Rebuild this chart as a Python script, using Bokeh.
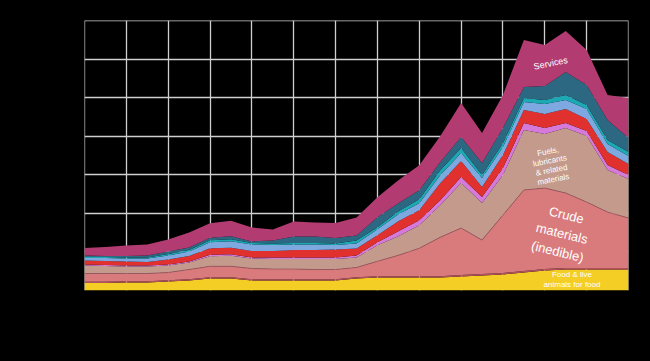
from bokeh.plotting import figure
from bokeh.models import ColumnDataSource, Range1d, FixedTicker, Span
from bokeh.embed import file_html
from bokeh.resources import INLINE
from bokeh.core.properties import value

# ---- data (grid unit = 10) ----
x = [2008.0, 2008.5, 2009.0, 2009.5, 2010.0, 2010.5, 2011.0, 2011.5, 2012.0,
     2012.5, 2013.0, 2013.5, 2014.0, 2014.5, 2015.0, 2015.5, 2016.0, 2016.5,
     2017.0, 2017.5, 2018.0, 2018.5, 2019.0, 2019.5, 2020.0, 2020.5, 2021.0]

food = [1.94, 1.94, 2.07, 2.07, 2.33, 2.59, 3.11, 3.11, 2.59, 2.59, 2.59, 2.59, 2.59, 3.11,
        3.37, 3.37, 3.37, 3.37, 3.63, 3.89, 4.15, 4.67, 5.19, 5.45, 5.45, 5.45, 5.45]
beverages = [0.3, 0.3, 0.3, 0.3, 0.3, 0.3, 0.35, 0.35, 0.3, 0.3, 0.3, 0.3, 0.3, 0.3,
             0.35, 0.35, 0.35, 0.35, 0.4, 0.4, 0.4, 0.4, 0.4, 0.4, 0.4, 0.4, 0.4]
crude = [2.16, 2.16, 2.03, 2.03, 2.03, 2.55, 2.81, 2.81, 2.81, 2.68, 2.68, 2.55, 2.55, 2.55,
         3.85, 5.40, 7.22, 10.07, 12.15, 8.78, 15.00, 20.96, 20.96, 19.41, 17.07, 14.48, 12.92]
fuels = [2.07, 1.94, 1.82, 1.82, 1.82, 1.82, 2.59, 2.72, 2.59, 2.59, 2.59, 2.72, 2.72, 2.59,
         4.15, 4.93, 5.96, 8.30, 11.67, 9.59, 10.37, 15.56, 14.00, 16.85, 17.11, 10.89, 10.11]
oils = [0.26, 0.26, 0.26, 0.26, 0.26, 0.26, 0.39, 0.39, 0.26, 0.39, 0.39, 0.39, 0.39, 0.52,
        0.78, 1.30, 1.30, 1.30, 1.56, 1.56, 1.82, 1.82, 1.56, 1.30, 1.30, 1.30, 1.04]
chemicals = [1.04, 1.04, 1.04, 0.91, 1.30, 1.43, 1.69, 1.69, 1.69, 1.69, 1.94, 1.94, 2.07, 1.82,
             1.82, 2.59, 2.59, 4.41, 4.15, 2.59, 3.37, 3.37, 3.63, 3.63, 3.11, 3.37, 2.85]
manufactured = [0.65, 0.78, 0.78, 0.91, 1.04, 1.17, 1.56, 1.69, 1.69, 1.56, 1.43, 1.43, 1.17, 1.30,
                1.56, 1.82, 1.82, 2.07, 2.07, 2.33, 2.07, 2.07, 2.59, 2.33, 2.59, 2.07, 2.07]
machinery = [0.26, 0.26, 0.26, 0.26, 0.39, 0.39, 0.52, 0.52, 0.39, 0.39, 0.39, 0.39, 0.39, 0.78,
             0.52, 0.78, 1.04, 1.30, 1.30, 0.78, 1.04, 1.04, 1.04, 1.30, 1.04, 1.04, 1.04]
misc = [0.39, 0.26, 0.39, 0.52, 0.65, 0.65, 0.65, 0.78, 0.39, 0.78, 1.69, 1.69, 1.43, 1.30,
        2.59, 2.07, 2.33, 2.07, 2.85, 3.11, 3.89, 2.85, 3.63, 5.96, 5.19, 5.19, 3.63]
services = [1.94, 2.33, 2.72, 2.85, 3.11, 3.89, 3.76, 4.02, 3.63, 2.85, 3.89, 3.63, 3.89, 4.67,
            5.19, 5.96, 6.48, 6.74, 8.82, 7.78, 8.56, 12.19, 10.63, 10.63, 9.08, 6.48, 10.37]

layers = ["food", "beverages", "crude", "fuels", "oils", "chemicals",
          "manufactured", "machinery", "misc", "services"]
colors = ["#F4CE24", "#B4505C", "#D97A7C", "#C39A8B", "#D57AD8", "#E0312F",
          "#7EA8E0", "#1DA9B3", "#2D6883", "#B23C72"]

labels = ["Services", "Fuels,\nlubricants\n& related\nmaterials",
          "Crude\nmaterials\n(inedible)", "Food & live\nanimals for food"]
label_x = [2019.14, 2019.14, 2019.41, 2019.65]
label_y = [58.9, 32.4, 14.8, 2.85]
label_size = ["9px", "8px", "13px", "8px"]
label_angle = [0.2, 0.19, -0.24, 0.0]
label_lh = [1.0, 1.05, 1.25, 1.05]

x_start, x_end, y_top = 2008, 2021, 70

src = ColumnDataSource(dict(x=x, food=food, beverages=beverages, crude=crude, fuels=fuels,
                            oils=oils, chemicals=chemicals, manufactured=manufactured,
                            machinery=machinery, misc=misc, services=services))

p = figure(frame_width=544, frame_height=270, output_backend="svg", toolbar_location=None,
           x_range=Range1d(x_start, x_end), y_range=Range1d(0, y_top),
           min_border_left=84, min_border_right=14, min_border_top=20, min_border_bottom=55)
p.background_fill_color = "black"
p.border_fill_color = "black"
p.outline_line_color = None

grid_color = "#CFCFCF"
# frame edges drawn like grid lines
for loc, dim in [(x_start, "height"), (x_end, "height"), (y_top, "width")]:
    p.add_layout(Span(location=loc, dimension=dim, line_color=grid_color,
                      line_width=1.3, level="underlay"))

p.varea_stack(layers, x="x", color=colors, source=src)
# thin darker line along the top of crude materials
p.vline_stack(["food", "beverages", "crude"], x="x", source=src,
              color=[None, None, "#9A5560"], line_width=0.8)

p.xaxis.visible = False
p.yaxis.visible = False
p.xgrid.ticker = FixedTicker(ticks=list(range(2008, 2022)))
p.ygrid.ticker = FixedTicker(ticks=[0, 10, 20, 30, 40, 50, 60, 70])
p.grid.grid_line_color = grid_color
p.grid.grid_line_width = 1.3
p.grid.level = "underlay"

for t, tx, ty, ts, ta, lh in zip(labels, label_x, label_y, label_size, label_angle, label_lh):
    p.text(x=[tx], y=[ty], text=[t], angle=ta, text_color="white",
           text_font=value("Liberation Sans"), text_font_size=ts,
           text_align="center", text_baseline="middle", text_line_height=lh)

html = file_html(p, INLINE)
html = html.replace("</head>", "<style>html, body { background-color: #000; }</style></head>", 1)
open("out.html", "w").write(html)
